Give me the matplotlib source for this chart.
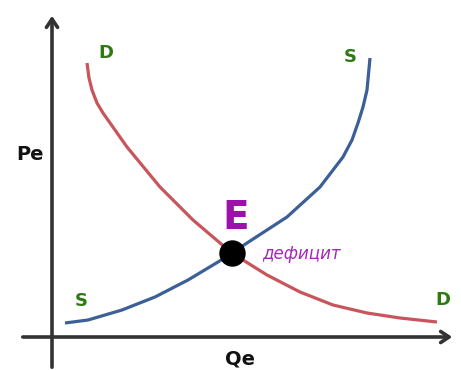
import matplotlib.pyplot as plt

# Кривые спроса (D) и предложения (S)
d_q = [35, 37, 40, 45, 51, 75, 108, 141, 168, 180, 191, 215, 248, 281, 315, 348, 385]
d_p = [274, 259, 247, 234, 224, 190, 150, 117, 94, 84, 77, 62, 45, 32, 24, 19, 15]

s_q = [13, 36, 70, 103, 136, 166, 180, 195, 235, 268, 291, 300, 306, 311, 315, 318]
s_p = [14, 17, 27, 40, 57, 75, 84, 94, 120, 150, 180, 197, 214, 230, 247, 279]

eq_q, eq_p = 180, 84

fig = plt.figure(figsize=(4.61, 3.70), dpi=100)
ax = fig.add_axes([0, 0, 1, 1])
ax.set_xlim(-52, 409)
ax.set_ylim(-33, 337)
ax.axis('off')

# оси со стрелками
eixo = dict(arrowstyle='->,head_length=0.6,head_width=0.4', lw=2.6, color='#333333')
ax.annotate('', xy=(0, 324), xytext=(0, -33), arrowprops=eixo)
ax.annotate('', xy=(403, 0), xytext=(-32, 0), arrowprops=eixo)

ax.plot(d_q, d_p, color='#c8555c', lw=2.3, solid_capstyle='butt', solid_joinstyle='round')
ax.plot(s_q, s_p, color='#3b5f96', lw=2.3, solid_capstyle='butt', solid_joinstyle='round')

ax.plot(eq_q, eq_p, 'o', color='black', markersize=18)

verde = '#2e7a12'
ax.text(54, 284, 'D', color=verde, fontsize=13, fontweight='bold', ha='center', va='center')
ax.text(391, 37, 'D', color=verde, fontsize=13, fontweight='bold', ha='center', va='center')
ax.text(298, 280, 'S', color=verde, fontsize=13, fontweight='bold', ha='center', va='center')
ax.text(29, 36, 'S', color=verde, fontsize=13, fontweight='bold', ha='center', va='center')

ax.text(184, 119, 'E', color='#9a12aa', fontsize=28, fontweight='bold', ha='center', va='center')
ax.text(249, 83, 'дефицит', color='#a326b8', fontsize=12, fontstyle='italic', ha='center', va='center')

ax.text(-22, 182, 'Pe', color='#111111', fontsize=14, fontweight='bold', ha='center', va='center')
ax.text(188, -22, 'Qe', color='#111111', fontsize=14, fontweight='bold', ha='center', va='center')

fig.savefig('out.png', dpi=100)
